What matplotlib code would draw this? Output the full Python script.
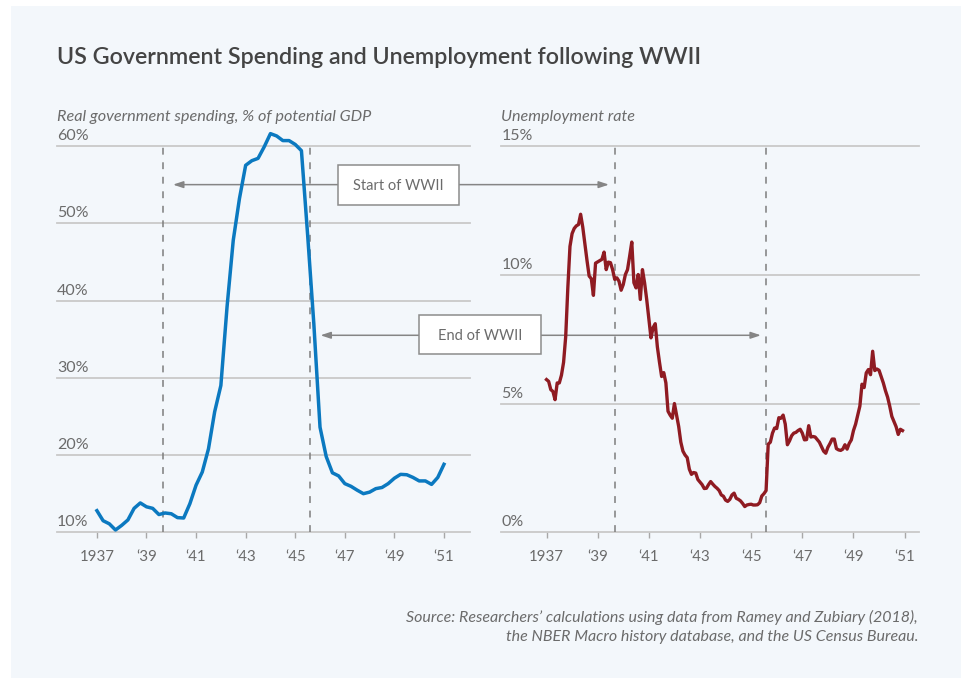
import numpy as np
import matplotlib
matplotlib.use("Agg")
import matplotlib.pyplot as plt
from matplotlib.patches import Rectangle, ConnectionPatch
from matplotlib.transforms import offset_copy

plt.rcParams['font.family'] = ['Lato', 'DejaVu Sans']

# real government spending, % of potential GDP, quarterly from 1937Q1 to 1951Q1
spending = [12.8, 11.5, 11.1, 10.3, 10.9, 11.6, 13.1, 13.8,
            13.3, 13.1, 12.3, 12.5, 12.4, 11.9, 11.85, 13.7,
            16.1, 17.8, 20.8, 25.6, 29.0, 39.2, 47.8, 53.2,
            57.5, 58.1, 58.4, 59.9, 61.6, 61.3, 60.7, 60.7,
            60.2, 59.4, 48.5, 37.0, 23.6, 19.8, 17.7, 17.3,
            16.3, 15.95, 15.45, 15.0, 15.2, 15.65, 15.8, 16.3,
            17.0, 17.5, 17.45, 17.1, 16.65, 16.65, 16.2, 17.1,
            18.8]

# unemployment rate, %, monthly from Jan 1937 to Dec 1950
unemployment = [
    5.93, 5.86, 5.54, 5.47, 5.15, 5.80, 5.80, 6.10, 6.60, 7.60, 9.50, 11.10,
    11.60, 11.80, 11.90, 11.95, 12.35, 11.85, 11.20, 10.55, 9.95, 9.85, 9.20, 10.45,
    10.50, 10.55, 10.60, 10.88, 10.20, 10.49, 10.47, 10.20, 9.82, 9.88, 9.75, 9.40,
    9.62, 10.01, 10.20, 10.72, 11.27, 9.69, 9.49, 10.01, 9.04, 10.20, 9.69, 9.04,
    8.30, 7.55, 7.95, 8.10, 7.20, 6.60, 6.05, 6.20, 5.80, 4.70, 4.55, 4.43,
    5.00, 4.55, 4.11, 3.50, 3.15, 3.00, 2.90, 2.45, 2.25, 2.32, 2.30, 2.05,
    1.95, 1.85, 1.70, 1.71, 1.85, 1.97, 1.87, 1.78, 1.71, 1.62, 1.45, 1.40,
    1.25, 1.20, 1.28, 1.45, 1.52, 1.32, 1.28, 1.22, 1.12, 1.00, 1.06, 1.08,
    1.09, 1.06, 1.06, 1.07, 1.15, 1.41, 1.50, 1.62, 3.42, 3.50, 3.85, 4.05,
    4.03, 4.45, 4.43, 4.55, 4.20, 3.40, 3.55, 3.75, 3.85, 3.88, 3.95, 4.00,
    3.85, 3.59, 3.60, 4.14, 3.70, 3.72, 3.70, 3.60, 3.50, 3.32, 3.15, 3.07,
    3.30, 3.45, 3.62, 3.62, 3.25, 3.20, 3.18, 3.23, 3.40, 3.23, 3.45, 3.59,
    3.95, 4.20, 4.55, 4.90, 5.75, 5.62, 6.19, 6.32, 6.12, 7.03, 6.28, 6.34,
    6.29, 6.05, 5.80, 5.50, 5.25, 4.90, 4.50, 4.30, 4.10, 3.80, 4.00, 3.95,
]

year_ticks = [1937, 1939, 1941, 1943, 1945, 1947, 1949, 1951]
year_labels = ['1937', '\u201839', '\u201841', '\u201843', '\u201845', '\u201847', '\u201849', '\u201851']
spend_ticks = [10, 20, 30, 40, 50, 60]
unemp_ticks = [0, 5, 10, 15]
war_start = 1939.67   # Sept 1939
war_end = 1945.58     # Aug 1945

quarters = 1937 + np.arange(len(spending)) / 4
months = 1937 + np.arange(len(unemployment)) / 12

TEXT = '#6b6b6b'
TITLE = '#444444'
GRID = '#c9c9c9'
DASH = '#7d7d7d'
BLUE = '#0b79c0'
RED = '#8f1b22'

W, H = 961, 678
fig = plt.figure(figsize=(W / 100, H / 100), dpi=100)
fig.patch.set_facecolor('white')
fig.add_artist(Rectangle((11 / W, 0), 1 - 11 / W, 1 - 6 / H, transform=fig.transFigure,
                         fc='#f3f7fb', ec='none', zorder=-10))


def px_axes(x0, x1, y0=146, y1=532.3):
    return fig.add_axes([x0 / W, 1 - y1 / H, (x1 - x0) / W, (y1 - y0) / H])


def px_text(x, y, s, **kw):
    return fig.text(x / W, 1 - y / H, s, **kw)


ax1 = px_axes(57, 470)
ax2 = px_axes(501.5, 918.7)

for ax, ticks, ylim, xlim in [(ax1, spend_ticks, (10, 60), (1935.39, 1952.05)),
                              (ax2, unemp_ticks, (0, 15), (1935.24, 1951.55))]:
    ax.set_facecolor('none')
    ax.set_zorder(2)
    for s in ax.spines.values():
        s.set_visible(False)
    ax.set_xlim(xlim)
    ax.set_ylim(ylim)
    ax.set_yticks(ticks)
    ax.set_yticklabels([])
    ax.tick_params(axis='y', length=0)
    ax.yaxis.grid(True, color=GRID, lw=1.3)
    for gl in ax.get_ygridlines():
        gl.set_clip_on(False)
    ax.set_axisbelow(True)
    ax.set_xticks(year_ticks, year_labels)
    ax.tick_params(axis='x', length=6 * 0.72, width=1, color='#a8a8a8',
                   labelsize=10.8, labelcolor=TEXT, pad=16.7)
    for lab in ax.get_xticklabels():
        lab.set_va('baseline')
    # value labels sit just above each gridline
    lab_tr = offset_copy(ax.get_yaxis_transform(), fig=fig, y=6, units='dots')
    for t in ticks:
        ax.text(0, t, f'{t}%', transform=lab_tr, ha='left', va='baseline',
                fontsize=11.5, color=TEXT)
    for x in (war_start, war_end):
        ax.axvline(x, color=DASH, lw=1.1, dashes=(4.5, 5), zorder=1)

ax1.plot(quarters, spending, color=BLUE, lw=2.5, clip_on=False,
         solid_joinstyle='round', zorder=3)
ax2.plot(months, unemployment, color=RED, lw=2.4, clip_on=False,
         solid_joinstyle='round', zorder=3)

# arrows linking the two panels at the war dates
arrow_kw = dict(arrowstyle='<|-|>,head_length=0.6,head_width=0.2', mutation_scale=10,
                color='#858585', lw=1.1, shrinkA=0, shrinkB=0, zorder=1)
fig.add_artist(ConnectionPatch(xyA=(war_start + 0.4, 55), coordsA=ax1.transData,
                               xyB=(war_start - 0.23, 13.5), coordsB=ax2.transData,
                               **arrow_kw))
fig.add_artist(ConnectionPatch(xyA=(war_end + 0.44, 35.5), coordsA=ax1.transData,
                               xyB=(war_end - 0.2, 7.65), coordsB=ax2.transData,
                               **arrow_kw))

renderer = fig.canvas.get_renderer()


def fit(txt, width):
    # rescale the font so the text spans the given width in pixels
    w = txt.get_window_extent(renderer).width
    txt.set_fontsize(txt.get_fontsize() * width / w)
    return txt


for (x0, y0, x1, y1), label, width in [((337.7, 165, 459, 205), 'Start of WWII', 90),
                                       ((419, 315, 541, 354), 'End of WWII', 84)]:
    fig.add_artist(Rectangle((x0 / W, 1 - y1 / H), (x1 - x0) / W, (y1 - y0) / H,
                             transform=fig.transFigure, fc='white', ec='#8c8c8c',
                             lw=1.1, zorder=5))
    t = px_text((x0 + x1) / 2, y1 - 14.5, label, ha='center', va='baseline',
                fontsize=11, color=TEXT, zorder=6)
    fit(t, width)

fit(px_text(57, 64, 'US Government Spending and Unemployment following WWII',
            fontsize=15, weight='semibold', color=TITLE, va='baseline'), 646)
fit(px_text(57, 121, 'Real government spending, % of potential GDP',
            fontsize=11, style='italic', color=TEXT, va='baseline'), 313)
fit(px_text(501.5, 121, 'Unemployment rate',
            fontsize=11, style='italic', color=TEXT, va='baseline'), 133.5)

src1 = fit(px_text(918, 622, 'Source: Researchers\u2019 calculations using data from '
                   'Ramey and Zubiary (2018),', fontsize=10, style='italic',
                   color=TEXT, ha='right', va='baseline'), 514)
px_text(918, 641, 'the NBER Macro history database, and the US Census Bureau.',
        fontsize=src1.get_fontsize(), style='italic', color=TEXT,
        ha='right', va='baseline')

fig.savefig('out.png', dpi=100)
